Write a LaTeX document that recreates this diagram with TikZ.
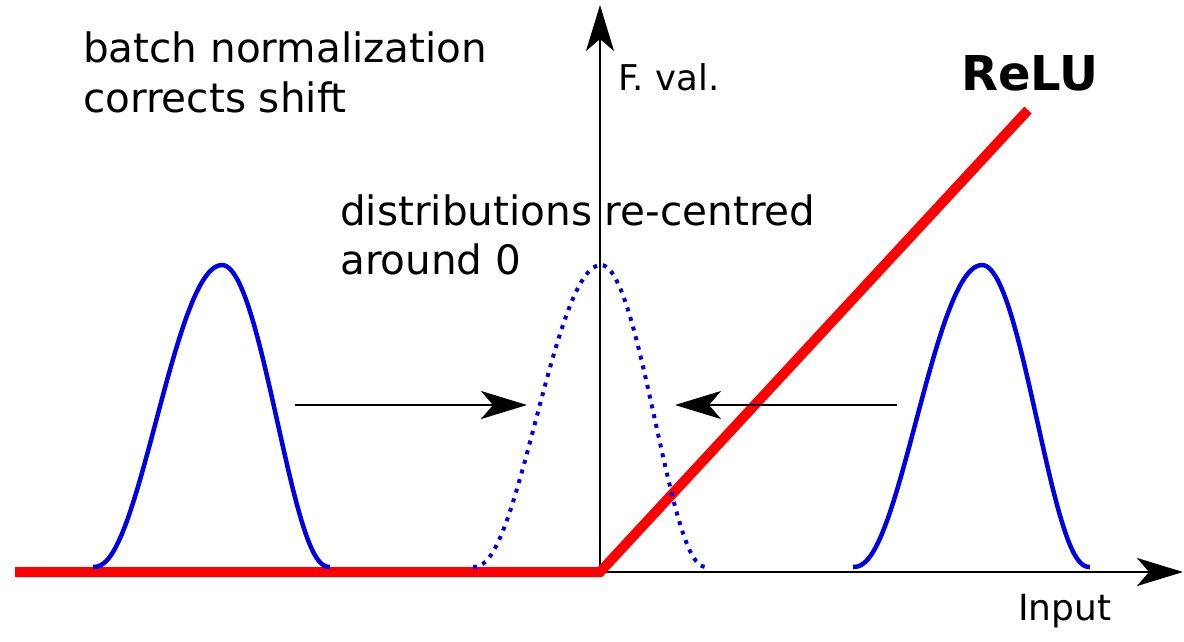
\documentclass[tikz,border=0pt]{standalone}
\usepackage{fontspec}
\setmainfont{DejaVu Sans}
\usetikzlibrary{arrows.meta}
\tikzset{
  axisline/.style={line width=2pt, -{Stealth[length=46pt,width=28pt,inset=12pt]}},
  shiftarrow/.style={line width=2pt, -{Stealth[length=46pt,width=28pt,inset=12pt]}},
  relu/.style={line width=10pt, red},
  bell/.style={line width=4.5pt, blue!90!black, line join=round},
  dottedbell/.style={line width=4pt, blue!90!black, dash pattern=on 4pt off 6pt},
  lbl/.style={inner sep=0pt, anchor=base west, font=\fontsize{40.5}{50}\selectfont},
}
\begin{document}
\begin{tikzpicture}[x=1pt,y=-1pt]
\useasboundingbox (0,0) rectangle (1184,641);
% axes
\coordinate (O) at (600,572);
\coordinate (ytip) at (600,5);
\coordinate (xtip) at (1183,572);
\draw[axisline] (O) -- (ytip);
\draw[axisline] (O) -- (xtip);
% ReLU
\coordinate (rl) at (15,572);
\coordinate (rt) at (1028,110);
\draw[relu] (rl) -- (O) -- (rt);
% distributions (bell curves, slightly longer left tail)
\draw[bell] plot[domain=-1:1, samples=101, smooth] ({222+(\x<0?129:108)*\x},{567-302*pow(1.00001-\x*\x,2.4)});
\draw[bell] plot[domain=-1:1, samples=101, smooth] ({982+(\x<0?129:108)*\x},{567-302*pow(1.00001-\x*\x,2.4)});
\draw[dottedbell] plot[domain=-1:1, samples=101, smooth] ({601+(\x<0?128:106)*\x},{567-302*pow(1.00001-\x*\x,2.4)});
% shift arrows
\coordinate (la) at (295,405);
\coordinate (lb) at (527,405);
\coordinate (ra) at (897,405);
\coordinate (rb) at (675,405);
\draw[shiftarrow] (la) -- (lb);
\draw[shiftarrow] (ra) -- (rb);
% labels
\node[lbl] (t1) at (83,62) {batch normalization};
\node[lbl] (t2) at (83,112) {corrects shift};
\node[lbl] (t3) at (340,225) {distributions re-centred};
\node[lbl] (t4) at (340,274) {around 0};
\node[lbl, font=\fontsize{35.5}{40}\selectfont] (fval) at (618,90) {F. val.};
\node[lbl, font=\fontsize{36}{42}\selectfont] (inp) at (1018,620) {Input};
\node[lbl, font=\fontsize{48}{56}\selectfont\bfseries] (relulbl) at (961,90) {ReLU};
\end{tikzpicture}
\end{document}
